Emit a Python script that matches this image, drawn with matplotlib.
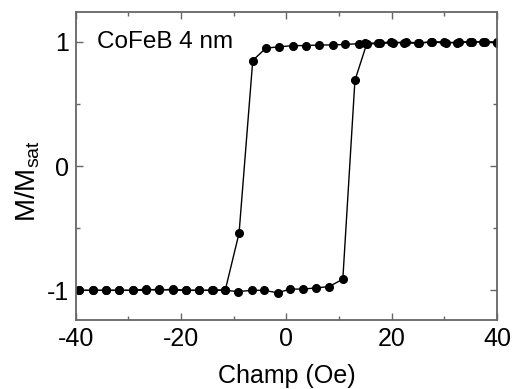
import numpy as np
import matplotlib
matplotlib.use("Agg")
import matplotlib.pyplot as plt
from matplotlib.ticker import MultipleLocator

plt.rcParams["font.family"] = ["Liberation Sans", "DejaVu Sans"]
plt.rcParams["mathtext.fontset"] = "custom"
plt.rcParams["mathtext.rm"] = "Liberation Sans"
plt.rcParams["axes.unicode_minus"] = False

# descending branch (field swept from +40 down to -40)
h_down = [39.9, 37.4, 34.9, 32.4, 29.9, 27.4, 24.9, 22.4, 19.9, 17.4, 14.9, 13.7,
          11.2, 8.8, 6.2, 3.7, 1.2, -1.4, -3.9, -6.4, -9.0, -11.6, -14.1, -16.6,
          -19.1, -21.6, -24.2, -26.7, -29.2, -31.8, -34.3, -36.8, -39.4]
m_down = [1.00, 1.00, 1.00, 0.99, 1.00, 1.00, 0.99, 0.99, 1.00, 0.99, 0.99, 0.985,
          0.98, 0.975, 0.975, 0.97, 0.97, 0.96, 0.95, 0.85, -0.54, -0.995, -1.00, -1.00,
          -1.00, -1.00, -0.99, -1.00, -1.00, -1.00, -1.00, -1.00, -1.00]

# ascending branch (field swept from -40 up to +40)
h_up = [-39.4, -36.8, -34.3, -31.8, -29.2, -26.7, -24.2, -21.6, -19.1, -16.6, -14.0,
        -11.6, -9.2, -6.6, -4.2, -1.7, 0.7, 3.2, 5.7, 8.1, 10.7, 13.0, 15.2,
        17.7, 20.2, 22.7, 25.2, 27.7, 30.2, 32.7, 35.2, 37.7, 40.0]
m_up = [-1.00, -1.00, -1.00, -1.00, -1.00, -0.99, -1.00, -0.99, -1.00, -1.00, -1.00,
        -1.00, -1.01, -1.00, -1.00, -1.02, -0.99, -0.99, -0.98, -0.97, -0.91, 0.69, 0.98,
        0.99, 0.99, 1.00, 0.99, 1.00, 0.99, 1.00, 1.00, 1.00, 0.99]

fig = plt.figure(figsize=(5.12, 3.89), dpi=100)
ax = fig.add_axes([0.148, 0.177, 0.823, 0.792])

ax.plot(h_down, m_down, "-o", color="black", lw=1.0, ms=5.5)
ax.plot(h_up, m_up, "-o", color="black", lw=1.0, ms=5.5)

ax.set_xlim(-40, 40)
ax.set_ylim(-1.24, 1.24)
ax.xaxis.set_major_locator(MultipleLocator(20))
ax.xaxis.set_minor_locator(MultipleLocator(10))
ax.yaxis.set_major_locator(MultipleLocator(1))
ax.yaxis.set_minor_locator(MultipleLocator(0.5))
ax.tick_params(which="both", direction="in", top=True, right=True,
               labelsize=18, color="#666666", pad=5)
ax.tick_params(which="major", length=5, width=1)
ax.tick_params(which="minor", length=3, width=1)
for s in ax.spines.values():
    s.set_linewidth(1.3)
    s.set_color("#666666")

ax.set_xlabel("Champ (Oe)", fontsize=18, labelpad=9)
ax.set_ylabel(r"M/M$_{\mathregular{sat}}$", fontsize=20, labelpad=3)
ax.yaxis.label.set_y(0.45)
ax.text(0.05, 0.94, "CoFeB 4 nm", transform=ax.transAxes, fontsize=17.5, va="top")

fig.savefig("out.png", dpi=100)
